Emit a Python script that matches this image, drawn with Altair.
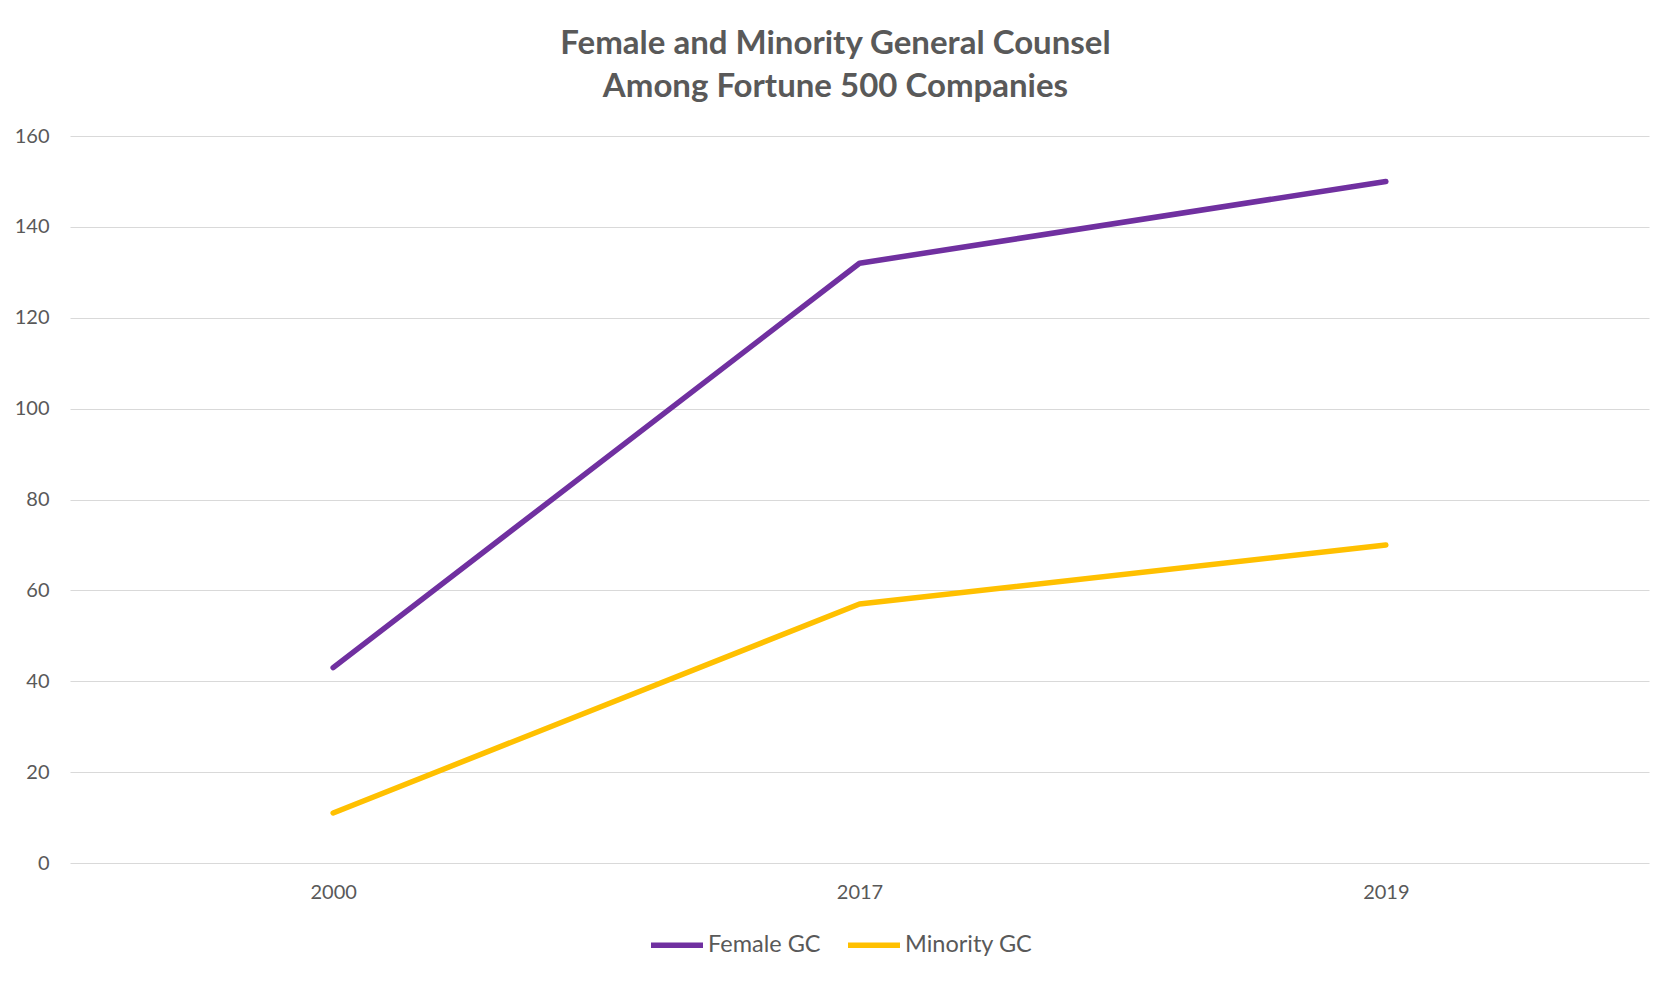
import altair as alt
import pandas as pd

years = ["2000", "2017", "2019"]
female_gc = [43, 132, 150]
minority_gc = [11, 57, 70]
series_names = ["Female GC", "Minority GC"]
series_colors = ["#7030A0", "#FFC000"]
y_ticks = [0, 20, 40, 60, 80, 100, 120, 140, 160]

rows = []
for name, vals in zip(series_names, [female_gc, minority_gc]):
    for yr, v in zip(years, vals):
        rows.append({"Year": yr, "Value": v, "Series": name})
df = pd.DataFrame(rows)

FONT = "Lato"
GRAY = "#595959"

chart = alt.Chart(df).mark_line(strokeWidth=5.5, strokeCap="round", strokeJoin="round").encode(
    x=alt.X("Year:N", sort=years,
            scale=alt.Scale(type="point", padding=0.5),
            axis=alt.Axis(title=None, labelAngle=0, domain=False, ticks=False,
                          labelPadding=19, labelFontSize=20, labelColor=GRAY,
                          labelFont=FONT, grid=False)),
    y=alt.Y("Value:Q", scale=alt.Scale(domain=[0, 160], nice=False),
            axis=alt.Axis(title=None, values=y_ticks, domain=False, ticks=False,
                          labelPadding=21, labelFontSize=20, labelColor=GRAY,
                          labelFont=FONT, gridColor="#D9D9D9", gridWidth=1)),
    color=alt.Color("Series:N", sort=series_names,
                    scale=alt.Scale(domain=series_names, range=series_colors),
                    legend=alt.Legend(title=None, orient="none", direction="horizontal",
                                      legendX=578, legendY=780,
                                      symbolType="stroke", symbolSize=2704,
                                      symbolStrokeWidth=5.5, labelOffset=2,
                                      columnPadding=16,
                                      labelFontSize=23.5, labelColor=GRAY, labelFont=FONT)),
).properties(
    width=1579,
    height=727,
    background="white",
    title=alt.TitleParams(
        text=["Female and Minority General Counsel", "Among Fortune 500 Companies"],
        font=FONT, fontSize=33, fontWeight="bold", color=GRAY,
        anchor="middle", dx=-24, offset=22, lineHeight=43,
    ),
    autosize=alt.AutoSizeParams(type="none"),
    padding={"left": 62, "top": 128, "right": 20, "bottom": 114},
).configure_view(stroke=None)

chart.save("out.html", embed_options={"renderer": "svg", "actions": False})
